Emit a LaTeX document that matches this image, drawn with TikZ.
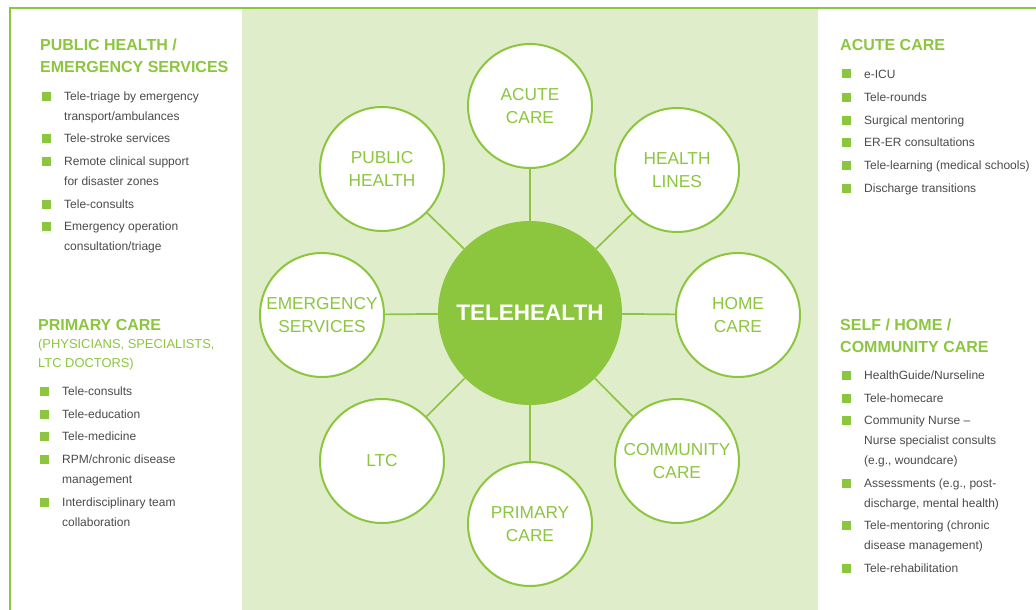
\documentclass[tikz,border=0pt]{standalone}
\usepackage{fontspec}
\setmainfont{Liberation Sans}
\definecolor{tgreen}{HTML}{8CC63F}
\definecolor{tpale}{HTML}{E0EDCB}
\definecolor{tgray}{HTML}{4A4A4A}

\tikzset{
  hub/.style={circle, fill=tgreen, minimum size=184pt, inner sep=0pt, text=white,
    font=\bfseries\fontsize{22.5}{22.5}\selectfont},
  sector/.style={circle, draw=tgreen, line width=2pt, fill=white, minimum size=124pt,
    inner sep=0pt, text=tgreen, align=center, font=\fontsize{17.3}{23}\selectfont},
  spoke/.style={draw=tgreen, line width=1.7pt},
  heading/.style={anchor=base west, inner sep=0pt, text=tgreen,
    font=\bfseries\fontsize{16}{22}\selectfont},
  subhead/.style={anchor=base west, inner sep=0pt, text=tgreen,
    font=\fontsize{12.9}{19}\selectfont},
  item/.style={anchor=base west, inner sep=0pt, text=tgray,
    font=\fontsize{12}{20}\selectfont},
  bulletsq/.style={fill=tgreen, minimum size=9pt, inner sep=0pt},
}

% lines stacked from the first baseline down
\newcommand{\stack}[1]{\begin{tabular}[t]{@{}l@{}}#1\end{tabular}}
% bullet + entry text
\newcommand{\entry}[4]{%
  \node[bulletsq] (#1b) at (#2-18,#3) {};
  \node[item] (#1) at (#2,#3+4.3) {\stack{#4}};}

\begin{document}
\begin{tikzpicture}[x=1pt,y=-1pt]
  \useasboundingbox (0,0) rectangle (1036,610);
  % frame and middle panel
  \fill[tpale] (242,9) rectangle (818,610);
  \draw[tgreen, line width=1.6pt] (10,610) -- (10,8) -- (1036,8);

  % wheel
  \node[hub] (hub) at (530,313) {TELEHEALTH};
  \node[sector] (acute) at (530,106) {ACUTE\\CARE};
  \node[sector] (lines) at (677,170) {HEALTH\\LINES};
  \node[sector] (home) at (738,315) {HOME\\CARE};
  \node[sector] (comm) at (677,461) {COMMUNITY\\CARE};
  \node[sector] (prim) at (530,524) {PRIMARY\\CARE};
  \node[sector] (ltc) at (382,461) {LTC};
  \node[sector] (emerg) at (322,315) {EMERGENCY\\SERVICES};
  \node[sector] (pub) at (382,169) {PUBLIC\\HEALTH};
  \foreach \s in {acute,lines,home,comm,prim,ltc,emerg,pub}
    \draw[spoke] (hub) -- (\s);

  % left column
  \node[heading] (phhead) at (40,50.5) {\stack{PUBLIC HEALTH /\\EMERGENCY SERVICES}};
  \entry{ph1}{64}{96}{Tele-triage by emergency\\transport/ambulances}
  \entry{ph2}{64}{138}{Tele-stroke services}
  \entry{ph3}{64}{161}{Remote clinical support\\for disaster zones}
  \entry{ph4}{64}{204}{Tele-consults}
  \entry{ph5}{64}{226}{Emergency operation\\consultation/triage}

  \node[heading] (pchead) at (38,330.5) {PRIMARY CARE};
  \node[subhead] (pcsub) at (38,348.5) {\stack{(PHYSICIANS, SPECIALISTS,\\LTC DOCTORS)}};
  \entry{pc1}{62}{391}{Tele-consults}
  \entry{pc2}{62}{414}{Tele-education}
  \entry{pc3}{62}{436}{Tele-medicine}
  \entry{pc4}{62}{459}{RPM/chronic disease\\management}
  \entry{pc5}{62}{502}{Interdisciplinary team\\collaboration}

  % right column
  \node[heading] (achead) at (840,50.5) {ACUTE CARE};
  \entry{ac1}{864}{74}{e-ICU}
  \entry{ac2}{864}{97}{Tele-rounds}
  \entry{ac3}{864}{120}{Surgical mentoring}
  \entry{ac4}{864}{142}{ER-ER consultations}
  \entry{ac5}{864}{165}{Tele-learning (medical schools)}
  \entry{ac6}{864}{188}{Discharge transitions}

  \node[heading] (schead) at (840,330.5) {\stack{SELF / HOME /\\COMMUNITY CARE}};
  \entry{sc1}{864}{375}{HealthGuide/Nurseline}
  \entry{sc2}{864}{398}{Tele-homecare}
  \entry{sc3}{864}{420}{Community Nurse --\\Nurse specialist consults\\(e.g., woundcare)}
  \entry{sc4}{864}{483}{Assessments (e.g., post-\\discharge, mental health)}
  \entry{sc5}{864}{525}{Tele-mentoring (chronic\\disease management)}
  \entry{sc6}{864}{568}{Tele-rehabilitation}
\end{tikzpicture}
\end{document}
